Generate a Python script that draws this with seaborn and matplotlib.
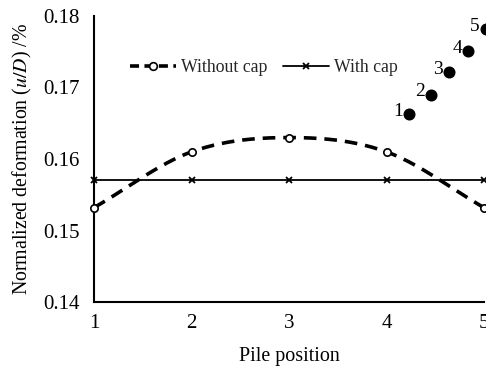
import numpy as np
import pandas as pd
import matplotlib
matplotlib.use("Agg")
import matplotlib.pyplot as plt
import seaborn as sns
from matplotlib.lines import Line2D

# ---- data ----
pile_pos = [1, 2, 3, 4, 5]
without_cap = [0.1532, 0.1610, 0.1630, 0.1610, 0.1532]
with_cap = [0.1570, 0.1570, 0.1570, 0.1570, 0.1570]
pile_labels = ["1", "2", "3", "4", "5"]
pile_x = [4.23, 4.455, 4.645, 4.84, 5.02]
pile_y = [0.1663, 0.1690, 0.1721, 0.1751, 0.1782]
xticks = [1, 2, 3, 4, 5]
yticks = [0.14, 0.15, 0.16, 0.17, 0.18]

sns.set_theme(style="white")
plt.rcParams["font.family"] = ["Liberation Serif", "DejaVu Serif"]
plt.rcParams["mathtext.fontset"] = "stix"

fig = plt.figure(figsize=(4.86, 3.69), dpi=100)
ax = fig.add_axes([94/486, 1-302/369, (484-94)/486, (302-16)/369])


def catmull(xs, ys, n=40):
    xs = np.asarray(xs, float); ys = np.asarray(ys, float)
    px = np.concatenate([[2*xs[0]-xs[1]], xs, [2*xs[-1]-xs[-2]]])
    py = np.concatenate([[2*ys[0]-ys[1]], ys, [2*ys[-1]-ys[-2]]])
    ox, oy = [], []
    for i in range(1, len(px)-2):
        t = np.linspace(0, 1, n, endpoint=(i == len(px)-3))
        for arr, out in ((px, ox), (py, oy)):
            p0, p1, p2, p3 = arr[i-1], arr[i], arr[i+1], arr[i+2]
            out.extend(0.5*((2*p1) + (-p0+p2)*t + (2*p0-5*p1+4*p2-p3)*t**2
                            + (-p0+3*p1-3*p2+p3)*t**3))
    return np.array(ox), np.array(oy)

sx, sy = catmull(pile_pos, without_cap)
curve = pd.DataFrame({"x": sx, "y": sy})
sns.lineplot(data=curve, x="x", y="y", ax=ax, color="black", lw=2.6,
             linestyle=(0, (3.5, 2.2)), sort=False, clip_on=False)
sns.scatterplot(x=pile_pos, y=without_cap, ax=ax, marker="o", s=28,
                facecolor="white", edgecolor="black", linewidth=1.2,
                zorder=5, clip_on=False)

sns.lineplot(x=pile_pos, y=with_cap, ax=ax, color="black", lw=1.3,
             marker="x", markersize=5, markeredgewidth=1.3,
             markeredgecolor="black", clip_on=False)

sns.scatterplot(x=pile_x, y=pile_y, ax=ax, s=75, color="black",
                edgecolor="black", linewidth=0, clip_on=False, zorder=6)
for lab, px_, py_ in zip(pile_labels, pile_x, pile_y):
    ax.annotate(lab, (px_, py_), xytext=(-4.5, 2), textcoords="offset points",
                ha="right", va="center", fontsize=14, color="black",
                annotation_clip=False)

ax.set_xlim(1, 5)
ax.set_ylim(0.14, 0.18)
ax.set_xticks(xticks)
ax.set_yticks(yticks)
ax.set_xticklabels([str(v) for v in xticks])
ax.set_yticklabels([f"{v:.2f}" for v in yticks])
ax.tick_params(axis="both", direction="in", length=5, width=1.2,
               labelsize=15, colors="black")
ax.tick_params(axis="y", pad=10)
ax.tick_params(axis="x", pad=9)
for side in ("top", "right"):
    ax.spines[side].set_visible(False)
for side in ("left", "bottom"):
    ax.spines[side].set_color("black")
    ax.spines[side].set_linewidth(1.5)

ax.set_xlabel("Pile position", fontsize=14.4, color="black", labelpad=10)
ax.set_ylabel(r"Normalized deformation ($\mathit{u/D}$) /%", fontsize=14.3,
              color="black", labelpad=7)

handles = [
    Line2D([], [], color="black", lw=2.6, linestyle=(0, (2.5, 1.5)),
           marker="o", markersize=5.5, markerfacecolor="white",
           markeredgecolor="black", markeredgewidth=1.2),
    Line2D([], [], color="black", lw=1.3, marker="x", markersize=5,
           markeredgewidth=1.3),
]
ax.legend(handles, ["Without cap", "With cap"], ncol=2, frameon=False,
          loc="center left", bbox_to_anchor=(0.092, 0.82), fontsize=12.8,
          handlelength=2.6, handletextpad=0.25, columnspacing=0.9,
          borderpad=0, borderaxespad=0)

fig.savefig("out.png", dpi=100)
